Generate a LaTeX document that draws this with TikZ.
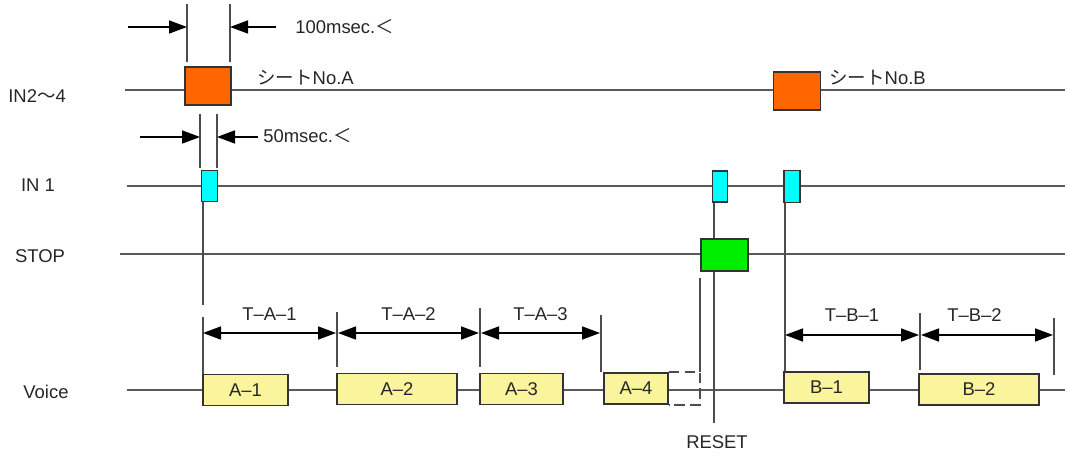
\documentclass[tikz,border=0pt]{standalone}
\usepackage{fontspec}
\setmainfont{Liberation Sans}
\newfontfamily\jp{Noto Sans CJK JP}
\usetikzlibrary{arrows.meta}
\definecolor{sheetorange}{HTML}{FF6600}
\definecolor{incyan}{HTML}{00FFFF}
\definecolor{stopgreen}{HTML}{00EE00}
\definecolor{voiceyellow}{HTML}{FAF59C}
\definecolor{lineg}{HTML}{5A5A5A}

\begin{document}
\begin{tikzpicture}[x=0.2mm, y=-0.2mm, font=\fontsize{10.5}{12}\selectfont]
		\tikzstyle{sig} = [draw=lineg, line width=1.1pt]
		\tikzstyle{tick} = [draw=black!70, line width=1.1pt]
		\tikzstyle{box} = [draw=black!80, line width=0.8pt, inner sep=0pt, text=black!85]
		\tikzstyle{voicebox} = [box, fill=voiceyellow, minimum height=6.2mm]
		\tikzstyle{txt} = [inner sep=0pt, text=black!85]
		\tikzstyle{dimarr} = [line width=0.9pt, -{Triangle[length=3.6mm, width=2.6mm]}]
		\tikzstyle{span} = [line width=0.9pt, {Triangle[length=3.6mm, width=2.6mm]}-{Triangle[length=3.6mm, width=2.6mm]}]
		\useasboundingbox (0,0) rectangle (1068,457);

		% signal names
		\node[txt, anchor=west] (n24) at (8,96) {IN2{\jp ～}4};
		\node[txt] (n1) at (38,185) {IN 1};
		\node[txt] (nstop) at (40,256) {STOP};
		\node[txt] (nvoice) at (46,392) {Voice};

		% signal lines
		\coordinate (s24) at (125,90);  \coordinate (e24) at (1065,90);
		\coordinate (s1) at (127,186);  \coordinate (e1) at (1065,186);
		\coordinate (ss) at (120,254);  \coordinate (es) at (1065,254);
		\coordinate (sv) at (127,390);  \coordinate (ev) at (1065,390);
		\draw[sig] (s24) -- (e24);
		\draw[sig] (s1) -- (e1);
		\draw[sig] (ss) -- (es);
		\draw[sig] (sv) -- (ev);

		% sheet inputs
		\node[box, fill=sheetorange, minimum width=9.2mm, minimum height=7.6mm] (sheetA) at (208,86) {};
		\node[box, fill=sheetorange, minimum width=9.4mm, minimum height=7.6mm] (sheetB) at (797,91) {};
		\node[txt, anchor=west] (labA) at (257,78) {{\jp シート}No.A};
		\node[txt, anchor=west] (labB) at (829,78) {{\jp シート}No.B};

		% IN 1 pulses
		\node[box, fill=incyan, minimum width=3.1mm, minimum height=6.2mm] (inA) at (209.5,186) {};
		\node[box, fill=incyan, minimum width=3.1mm, minimum height=6.2mm] (inR) at (720,186.5) {};
		\node[box, fill=incyan, minimum width=3.2mm, minimum height=6.4mm] (inB) at (792,186.5) {};

		% 100msec
		\coordinate (w1) at (187,4);  \coordinate (w1e) at (187,62);
		\coordinate (w2) at (230,4);  \coordinate (w2e) at (230,62);
		\coordinate (a1) at (128,27); \coordinate (a2) at (276,27);
		\draw[tick] (w1) -- (w1e);
		\draw[tick] (w2) -- (w2e);
		\draw[dimarr] (a1) -- (a1 -| w1);
		\draw[dimarr] (a2) -- (a2 -| w2);
		\node[txt, anchor=west] (t100) at (295,27) {100msec.{\jp ＜}};

		% 50msec
		\coordinate (p1) at (200,114);  \coordinate (p1e) at (200,168);
		\coordinate (p2) at (217,114);  \coordinate (p2e) at (217,168);
		\coordinate (b1) at (140,137); \coordinate (b2) at (258,137);
		\draw[tick] (p1) -- (p1e);
		\draw[tick] (p2) -- (p2e);
		\draw[dimarr] (b1) -- (b1 -| p1);
		\draw[dimarr] (b2) -- (b2 -| p2);
		\node[txt, anchor=west] (t50) at (263,136) {50msec.{\jp ＜}};

		% RESET
		\coordinate (rst) at (714,423);
		\draw[tick] ([xshift=0.4mm]inR.south west) -- ([xshift=0.4mm]inR.south west |- rst);
		\node[box, fill=stopgreen, minimum width=9.4mm, minimum height=6.4mm] (stop) at (724.5,255) {};
		\node[txt] (treset) at (717,442) {RESET};

		% voice
		\node[voicebox, minimum width=17mm] (vA1) at (245.5,390) {A--1};
		\node[voicebox, minimum width=24mm] (vA2) at (397,389) {A--2};
		\node[voicebox, minimum width=16.6mm] (vA3) at (521.5,389) {A--3};
		\node[voicebox, minimum width=12.8mm] (vA4) at (636,388.5) {A--4};
		\node[voicebox, minimum width=17mm] (vB1) at (826.5,387.5) {B--1};
		\node[voicebox, minimum width=24mm] (vB2) at (979,389.5) {B--2};

		% cut off part of A-4
		\coordinate (cut) at (700,278);
		\draw[tick] (cut) -- (cut |- vA4.north);
		\draw[tick, dash pattern=on 6pt off 3pt] (vA4.north east) -- (vA4.north east -| cut) -- (vA4.south east -| cut) -- (vA4.south east);

		% T-A timings
		\coordinate (kA0) at (203,305);
		\draw[tick] ([xshift=0.3mm]inA.south west) -- ([xshift=0.3mm]inA.south west |- kA0);
		\coordinate (kA1) at (203,317);
		\coordinate (kA2) at (337,312);
		\coordinate (kA3) at (480,308);
		\coordinate (kA4) at (601,315);
		\draw[tick] (kA1) -- (kA1 |- vA1.north);
		\draw[tick] (kA2) -- (337,367);
		\draw[tick] (kA3) -- (480,367);
		\draw[tick] (kA4) -- (601,372);
		\draw[span] (203,333) -- (336,333) node[midway, txt, above=6.5pt] (tA1) {T--A--1};
		\draw[span] (338,333) -- (479,333) node[midway, txt, above=6.5pt] (tA2) {T--A--2};
		\draw[span] (481,333) -- (600,333) node[midway, txt, above=6.5pt] (tA3) {T--A--3};

		% T-B timings
		\draw[tick] ([xshift=0.3mm]inB.south west) -- ([xshift=0.3mm]inB.south west |- vB1.north);
		\coordinate (kB1) at (920,313);
		\coordinate (kB2) at (1054,318);
		\draw[tick] (kB1) -- (920,370);
		\draw[tick] (kB2) -- (1054,375);
		\draw[span] (785,335) -- (919,335) node[midway, txt, above=7pt] (tB1) {T--B--1};
		\draw[span] (921,335) -- (1053,335) node[midway, txt, above=7pt, xshift=-2.5mm] (tB2) {T--B--2};
	\end{tikzpicture}
\end{document}
